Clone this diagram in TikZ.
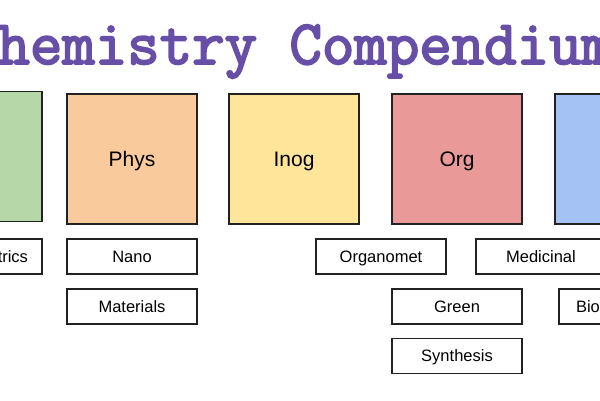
\documentclass[tikz,border=0pt]{standalone}
\usepackage{fontspec}
\setmainfont{Liberation Sans}
\newfontfamily\titlefont{Latin Modern Mono}[FakeBold=3]
\definecolor{titlepurple}{HTML}{674EA7}
\definecolor{boxgreen}{HTML}{B6D7A8}
\definecolor{boxorange}{HTML}{F9CB9C}
\definecolor{boxyellow}{HTML}{FFE599}
\definecolor{boxred}{HTML}{EA9999}
\definecolor{boxblue}{HTML}{A4C2F4}
\definecolor{edge}{HTML}{222222}
\begin{document}
\begin{tikzpicture}[x=1pt,y=-1pt,
  bigbox/.style={draw=edge, line width=1.2pt, minimum width=130pt, minimum height=130pt,
    inner sep=0pt, font=\fontsize{21}{25}\selectfont, text height=15pt, text depth=0pt},
  smallbox/.style={draw=edge, line width=1.2pt, fill=white, minimum width=130pt, minimum height=35pt,
    inner sep=0pt, font=\fontsize{16.5}{20}\selectfont, text height=11.8pt, text depth=0pt},
  titletext/.style={font=\titlefont\fontsize{63}{70}\selectfont, text=titlepurple, inner sep=0pt}]
\useasboundingbox (0,0) rectangle (600,400);
\clip (0,0) rectangle (600,400);
\fill[white] (0,0) rectangle (600,400);
\node[titletext, anchor=base] (title) at (289.5,64) {Chemistry Compendium};
% big boxes
\node[bigbox, fill=boxgreen] (anal) at (-23,156.5) {};
\node[bigbox, fill=boxorange] (phys) at (132,159) {Phys};
\node[bigbox, fill=boxyellow] (inog) at (294,159) {Inog};
\node[bigbox, fill=boxred] (org) at (457,159) {Org};
\node[bigbox, fill=boxblue] (bioc) at (620,159) {};
% small boxes
\node[smallbox, text width=102pt, inner xsep=14pt, align=right] (trics) at (-23,256.5) {trics};
\node[smallbox] (nano) at (132,256.5) {Nano};
\node[smallbox] (materials) at (132,306.5) {Materials};
\node[smallbox] (organomet) at (381,256.5) {Organomet};
\node[smallbox] (medicinal) at (541,256.5) {Medicinal};
\node[smallbox] (green) at (457,306.5) {Green};
\node[smallbox] (synthesis) at (457,356) {Synthesis};
\node[smallbox, text width=96pt, inner xsep=17pt, align=left] (bio) at (624,306.5) {Bio};
\end{tikzpicture}
\end{document}
